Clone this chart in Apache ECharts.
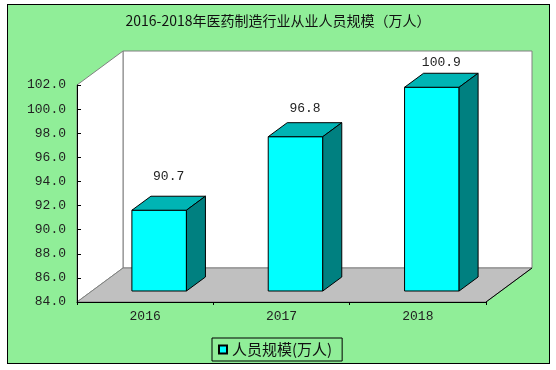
<!DOCTYPE html>
<html>
<head>
<meta charset="utf-8">
<script src="https://cdn.jsdelivr.net/npm/echarts@6/dist/echarts.min.js"></script>
<style>
  html, body { margin: 0; padding: 0; background: #ffffff; }
  #frame { position: absolute; left: 7px; top: 4px; width: 543px; height: 360px; box-sizing: border-box;
           background: #90EE98; border: 1px solid #000; }
  #chart { position: absolute; left: 0; top: 0; width: 556px; height: 370px; }
</style>
</head>
<body>
<div id="frame"></div>
<div id="chart"></div>
<script>
// ---- data ----
const titleText = '2016-2018年医药制造行业从业人员规模（万人）';
const seriesName = '人员规模(万人)';
const categories = ['2016', '2017', '2018'];
const values = [90.7, 96.8, 100.9];
const yMin = 84;
const yMax = 102;
const yInterval = 2;

// ---- 3D look (styling) ----
const DEPTH = [46, -34];      // wall depth offset
const FRONT = [14, -11];      // bar front-face offset inside the depth
const BARD = [19, -14];       // bar depth
const monoFont = '"Liberation Mono", "DejaVu Sans Mono", monospace';
const cjkFont = '"Noto Sans CJK SC", sans-serif';

const chart = echarts.init(document.getElementById('chart'), null, { renderer: 'canvas' });

function wallsRender(params, api) {
  const cs = params.coordSys;
  const x = cs.x, y = cs.y, w = cs.width, h = cs.height;
  const dx = DEPTH[0], dy = DEPTH[1];
  return {
    type: 'group',
    children: [
      { type: 'rect', shape: { x: x + dx, y: y + dy, width: w, height: h },
        style: { fill: '#ffffff', stroke: '#808080', lineWidth: 1 } },
      { type: 'polygon', shape: { points: [[x, y], [x + dx, y + dy], [x + dx, y + h + dy], [x, y + h]] },
        style: { fill: '#ffffff', stroke: '#808080', lineWidth: 1 } },
      { type: 'polygon', shape: { points: [[x, y + h], [x + dx, y + h + dy], [x + w + dx, y + h + dy], [x + w, y + h]] },
        style: { fill: '#c0c0c0', stroke: '#808080', lineWidth: 1 } },
      { type: 'line', shape: { x1: x + w, y1: y + h, x2: x + w + dx, y2: y + h + dy },
        style: { stroke: '#000', lineWidth: 1 } }
    ]
  };
}

function barRender(params, api) {
  const i = api.value(0), v = api.value(1);
  const top = api.coord([i, v]);
  const base = api.coord([i, yMin]);
  const band = api.size([1, 0])[0];
  const w = band * 0.4;
  const x0 = top[0] - w / 2 + FRONT[0];
  const x1 = x0 + w;
  const yt = top[1] + FRONT[1];
  const yb = base[1] + FRONT[1];
  const dx = BARD[0], dy = BARD[1];
  const labelOff = 17 + (yMax - v) * 0.85;
  return {
    type: 'group',
    children: [
      { type: 'rect', shape: { x: x0, y: yt, width: w, height: yb - yt },
        style: { fill: '#00FFFF', stroke: '#000', lineWidth: 1 } },
      { type: 'polygon', shape: { points: [[x0, yt], [x0 + dx, yt + dy], [x1 + dx, yt + dy], [x1, yt]] },
        style: { fill: '#00B4B4', stroke: '#000', lineWidth: 1 } },
      { type: 'polygon', shape: { points: [[x1, yt], [x1 + dx, yt + dy], [x1 + dx, yb + dy], [x1, yb]] },
        style: { fill: '#008080', stroke: '#000', lineWidth: 1 } },
      { type: 'text', style: { x: (x0 + x1) / 2 + dx / 2, y: yt + dy / 2 - labelOff,
          text: v.toFixed(1), fill: '#222', font: '13px ' + monoFont, align: 'center', verticalAlign: 'middle' } }
    ]
  };
}

const option = {
  animation: false,
  backgroundColor: 'transparent',
  title: {
    text: titleText, left: 'center', top: 14, padding: 0,
    textStyle: { fontFamily: cjkFont, fontSize: 14, fontWeight: 'normal', color: '#111' }
  },
  legend: {
    data: [{ name: seriesName, icon: 'rect' }],
    left: 212, top: 338,
    padding: [4, 10, 4, 6],
    itemWidth: 8, itemHeight: 8, itemGap: 0,
    borderColor: '#000', borderWidth: 1,
    textStyle: { fontFamily: cjkFont, fontSize: 15, color: '#111' },
    selectedMode: false
  },
  grid: { left: 77, right: 70, top: 85, bottom: 68, containLabel: false },
  xAxis: {
    type: 'category', data: categories, z: 5,
    axisLine: { show: true, lineStyle: { color: '#000', width: 1 } },
    axisTick: { show: true, length: 3, lineStyle: { color: '#000' } },
    axisLabel: { margin: 8, color: '#222', fontFamily: monoFont, fontSize: 13 },
    splitLine: { show: false }
  },
  yAxis: {
    type: 'value', min: yMin, max: yMax, interval: yInterval, z: 5,
    axisLine: { show: true, lineStyle: { color: '#000', width: 1 } },
    axisTick: { show: true, inside: true, length: 4, lineStyle: { color: '#000' } },
    axisLabel: { margin: 11, color: '#222', fontFamily: monoFont, fontSize: 13,
      formatter: v => v.toFixed(1) },
    splitLine: { show: false }
  },
  series: [
    { type: 'custom', name: 'walls', renderItem: wallsRender, data: [[0, yMin]], z: 1, silent: true,
      encode: { x: 0, y: 1 } },
    { type: 'custom', name: seriesName, renderItem: barRender, z: 10,
      itemStyle: { color: '#00FFFF', borderColor: '#000', borderWidth: 1 },
      data: categories.map((c, i) => [i, values[i]]),
      encode: { x: 0, y: 1 } }
  ]
};
chart.setOption(option);
</script>
</body>
</html>
